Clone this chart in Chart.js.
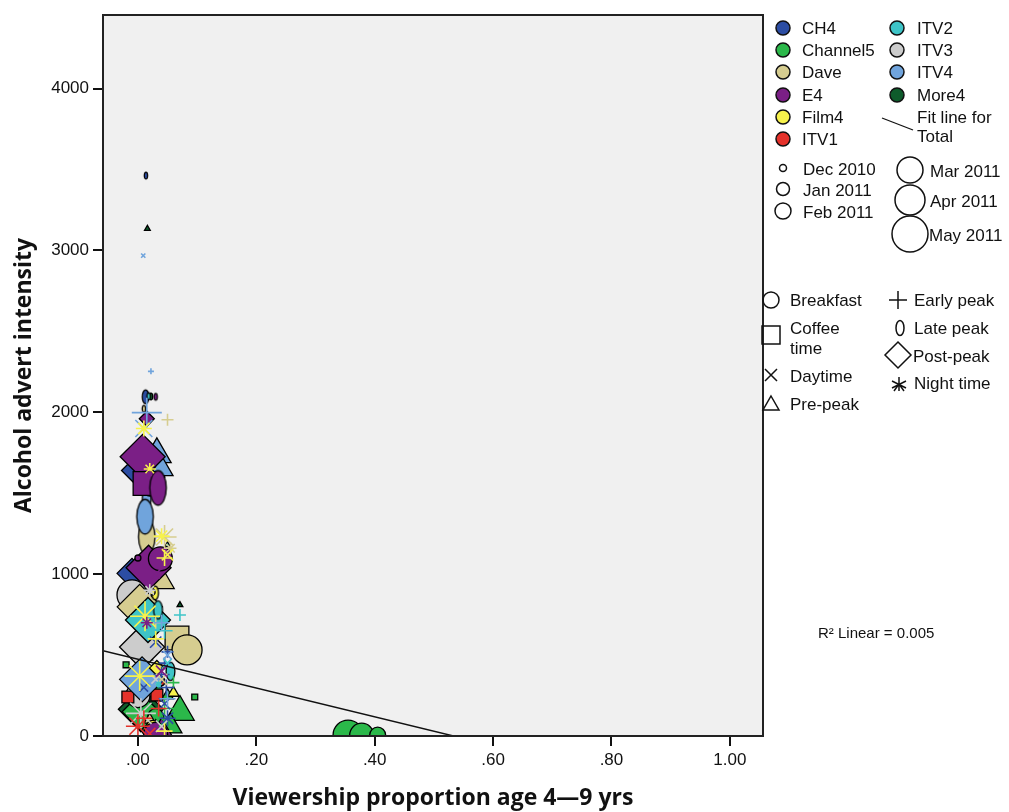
<!DOCTYPE html>
<html><head><meta charset="utf-8">
<script src="https://cdn.jsdelivr.net/npm/chart.js@4"></script>
<style>
html,body{margin:0;padding:0;background:#fff;}
#wrap{position:relative;width:1009px;height:812px;overflow:hidden;}
#c{position:absolute;left:0;top:0;}
#leg{position:absolute;left:0;top:0;pointer-events:none;}
#leg text{font-family:"Liberation Sans",Arial,sans-serif;font-size:17px;fill:#111;}
</style></head><body>
<div id="wrap">
<canvas id="c" width="1009" height="812"></canvas>
<svg id="leg" width="1009" height="812" xmlns="http://www.w3.org/2000/svg"></svg>
</div>
<script>
// ---------- data ----------
const channels = ['CH4','Channel5','Dave','E4','Film4','ITV1','ITV2','ITV3','ITV4','More4'];
const channelColors = ['#2c4da3','#2bb84a','#d6cd90','#7b1f86','#f7f24c','#e5322b','#3ec4c7','#cccccc','#70a4dc','#0e5b2b'];
const months = ['Dec 2010','Jan 2011','Feb 2011','Mar 2011','Apr 2011','May 2011'];
const slots = ['Breakfast','Coffee time','Daytime','Pre-peak','Early peak','Late peak','Post-peak','Night time'];
const xTicks = [0, 0.2, 0.4, 0.6, 0.8, 1.0];
const yTicks = [0, 1000, 2000, 3000, 4000];
const fitLine = [[-0.059, 527], [0.533, 0]];
const rSquared = 'R\u00B2 Linear = 0.005';

// rows: [viewership proportion, advert intensity, month index, slot index]
const CH4 = [[0.0135,3463,0,5],[0.013,2096,1,5],[0.004,1640,4,6],[0.02,1600,3,6],[-0.01,1005,3,6],
  [0.03,580,2,2],[0.045,450,1,4],[0.048,300,2,4],[0.05,110,2,7],[0.03,60,1,3],[0.045,200,2,2],
  [0.04,380,2,4],[0.05,520,1,4],[0.01,300,1,2]];
const Channel5 = [[0.355,5,4,0],[0.378,5,3,0],[0.405,5,2,0],[0.096,241,0,1],[0.071,148,4,3],[0.05,250,1,3],
  [0.035,300,0,1],[-0.02,440,0,1],[0.045,170,3,4],[0.055,60,3,3],[0.017,884,0,1],[0.045,90,2,2],
  [0.005,150,4,6],[0.03,120,2,0],[0.06,330,1,4]];
const Dave = [[0.01,2022,0,5],[0.05,1954,1,4],[0.015,1230,4,5],[0.045,1230,3,7],[0.042,952,3,3],
  [0.003,798,5,6],[0.066,606,3,1],[0.083,532,4,0],[0.03,700,1,4],[0.04,350,2,2],[0.02,100,1,3],
  [0.055,1160,1,7]];
const E4 = [[0.03,2096,0,5],[0.015,1960,1,6],[0.008,1725,5,6],[0.012,1560,3,1],[0.034,1533,4,5],
  [0.018,1040,5,6],[0.038,1095,3,0],[0.015,700,1,7],[0.04,10,4,3],[0.03,10,3,0],[0.02,1620,0,7],
  [0.04,400,2,2],[0.0,1100,0,0],[0.03,1000,1,2]];
const Film4 = [[0.01,1900,2,7],[0.04,1235,2,7],[0.045,1100,2,4],[0.029,884,1,5],[0.012,740,4,7],
  [0.032,420,1,6],[0.003,370,4,7],[0.06,266,1,3],[0.024,890,0,0],[0.05,1120,2,2],[0.02,1650,1,7],
  [0.03,600,2,4],[0.025,60,1,0],[0.045,30,2,4]];
const ITV1 = [[-0.017,241,1,1],[0.032,253,1,1],[0.0,60,3,7],[0.035,170,2,4],[0.02,15,2,2],
  [0.01,110,2,4],[0.04,330,0,0]];
const ITV2 = [[0.018,2100,0,5],[0.017,717,5,6],[0.034,779,2,5],[0.045,650,2,4],[0.05,450,1,2],
  [0.035,320,0,7],[0.071,748,1,4],[0.055,400,2,5],[0.05,1180,0,3]];
const ITV3 = [[-0.01,872,4,0],[0.007,550,5,6],[0.005,140,4,7],[0.03,350,1,2],[0.0,250,3,0],
  [0.02,900,1,7],[0.04,60,2,2]];
const ITV4 = [[0.009,2968,0,2],[0.022,2253,0,4],[0.015,1998,4,4],[0.032,1740,4,3],[0.04,1650,3,3],
  [0.015,1470,2,5],[0.012,1355,4,5],[0.007,350,5,6],[0.04,700,2,4],[0.05,500,1,2],[0.01,1900,3,2],
  [0.05,230,2,4],[0.02,1520,1,0],[0.03,1050,0,5]];
const More4 = [[0.016,3135,0,3],[0.022,2098,0,5],[0.071,810,0,3],[0.005,165,5,6],[0.025,60,3,0],
  [0.064,544,0,0],[0.015,1000,0,0],[0.02,480,0,3]];

const channelData = {CH4, Channel5, Dave, E4, Film4, ITV1, ITV2, ITV3, ITV4, More4};

// ---------- styling ----------
const monthRadius = [3, 6, 8, 12, 15, 18];
const slotStyle = ['circle','rect','crossRot','triangle','cross','ellipse','rectRot','star'];
const slotScale = [1, 1.4, 1, 1.1, 1, 1, 1.25, 1];
const lineSlots = [2, 4, 7];
const layer = ['More4','Channel5','CH4','ITV3','Dave','ITV1','ITV2','ITV4','Film4','E4']; // bottom -> top

const ellipseCache = {};
function ellipseImg(color, r) {
  const key = color + r;
  if (ellipseCache[key]) return ellipseCache[key];
  const rx = r * 0.55, ry = r * 1.15;
  const c = document.createElement('canvas');
  c.width = Math.ceil(2 * rx + 4); c.height = Math.ceil(2 * ry + 4);
  const g = c.getContext('2d');
  g.beginPath(); g.ellipse(c.width / 2, c.height / 2, rx, ry, 0, 0, Math.PI * 2);
  g.fillStyle = color; g.fill(); g.lineWidth = 1.3; g.strokeStyle = '#000'; g.stroke();
  ellipseCache[key] = c;
  return c;
}

function makeDataset(name, lines) {
  const ci = channels.indexOf(name);
  const color = channelColors[ci];
  const pts = channelData[name]
    .filter(r => lineSlots.includes(r[3]) === lines)
    .map(r => ({x: r[0], y: r[1], m: r[2], s: r[3]}));
  const li = layer.indexOf(name);
  return {
    type: 'scatter',
    label: name + (lines ? ' lines' : ''),
    data: pts,
    order: lines ? -100 - li : -li,
    clip: 0,
    showLine: false,
    pointStyle: ctx => {
      const p = ctx.raw; if (!p) return 'circle';
      const st = slotStyle[p.s];
      return st === 'ellipse' ? ellipseImg(color, monthRadius[p.m]) : st;
    },
    pointRadius: ctx => { const p = ctx.raw; return p ? monthRadius[p.m] * slotScale[p.s] : 3; },
    pointBackgroundColor: color,
    pointBorderColor: lines ? color : '#000',
    pointBorderWidth: lines ? 1.6 : 1.3
  };
}

const datasets = [];
channels.forEach(n => { datasets.push(makeDataset(n, false)); datasets.push(makeDataset(n, true)); });
datasets.push({
  type: 'line', label: 'Fit line for Total',
  data: fitLine.map(p => ({x: p[0], y: p[1]})),
  borderColor: '#111', borderWidth: 1.4, pointRadius: 0, clip: 0, order: -1000, tension: 0
});

const plotBg = {
  id: 'plotBg',
  beforeDraw(chart) {
    const {ctx, chartArea: a} = chart;
    ctx.save(); ctx.fillStyle = '#f0f0f0';
    ctx.fillRect(a.left, a.top, a.right - a.left, a.bottom - a.top); ctx.restore();
  },
  afterDraw(chart) {
    const {ctx, chartArea: a} = chart;
    ctx.save(); ctx.strokeStyle = '#222'; ctx.lineWidth = 2;
    ctx.strokeRect(a.left, a.top, a.right - a.left, a.bottom - a.top); ctx.restore();
  }
};

const tickFont = {family: '"Liberation Sans", Arial, sans-serif', size: 17};
const titleFont = {family: '"Open Sans", sans-serif', size: 23, weight: 'bold'};
new Chart(document.getElementById('c'), {
  type: 'scatter',
  data: {datasets},
  options: {
    responsive: false, animation: false, devicePixelRatio: 1, events: [],
    layout: {autoPadding: false, padding: {left: 0, top: 15, right: 246, bottom: 0}},
    plugins: {legend: {display: false}, tooltip: {enabled: false}},
    scales: {
      x: {
        type: 'linear', min: -0.059, max: 1.056, z: 1,
        afterBuildTicks: s => { s.ticks = xTicks.map(v => ({value: v})); },
        afterFit: s => { s.height = 76; s.paddingLeft = 0; s.paddingRight = 0; },
        ticks: {color: '#111', font: tickFont, padding: 4, maxRotation: 0, autoSkip: false,
          callback: v => v.toFixed(2).replace(/^0/, '')},
        grid: {display: true, drawOnChartArea: false, drawTicks: true, tickLength: 10, color: '#111', lineWidth: 2},
        border: {display: true, color: '#111', width: 2},
        title: {display: true, text: 'Viewership proportion age 4\u20149 yrs', color: '#111',
          font: titleFont, padding: {top: 0, bottom: 0}}
      },
      y: {
        type: 'linear', min: 0, max: 4455, z: 1,
        afterBuildTicks: s => { s.ticks = yTicks.map(v => ({value: v})); },
        afterFit: s => { s.width = 103; s.paddingTop = 0; s.paddingBottom = 0; },
        ticks: {color: '#111', font: tickFont, padding: 4, autoSkip: false, callback: v => String(v)},
        grid: {display: true, drawOnChartArea: false, drawTicks: true, tickLength: 10, color: '#111', lineWidth: 2},
        border: {display: true, color: '#111', width: 2},
        title: {display: true, text: 'Alcohol advert intensity', color: '#111',
          font: titleFont, padding: {top: 11, bottom: 0}}
      }
    }
  },
  plugins: [plotBg]
});

// ---------- legend (SVG, real text) ----------
const svg = document.getElementById('leg');
const NS = 'http://www.w3.org/2000/svg';
function el(tag, attrs, txt) {
  const e = document.createElementNS(NS, tag);
  for (const k in attrs) e.setAttribute(k, attrs[k]);
  if (txt !== undefined) e.textContent = txt;
  svg.appendChild(e); return e;
}
function label(x, cy, t) { el('text', {x: x, y: cy + 6}, t); }
const stroke = {stroke: '#111', 'stroke-width': 1.5, fill: 'none'};

// channels
const chPos = [[783, 802, 28],[783, 802, 50],[783, 802, 72],[783, 802, 95],[783, 802, 117],[783, 802, 139],
               [897, 917, 28],[897, 917, 50],[897, 917, 72],[897, 917, 95]];
const chLegendOrder = ['CH4','Channel5','Dave','E4','Film4','ITV1','ITV2','ITV3','ITV4','More4'];
chLegendOrder.forEach((n, i) => {
  const [cx, tx, cy] = chPos[i];
  el('circle', {cx, cy, r: 7, fill: channelColors[channels.indexOf(n)], stroke: '#111', 'stroke-width': 1.5});
  label(tx, cy, n);
});
el('line', {x1: 882, y1: 118, x2: 913, y2: 130, stroke: '#111', 'stroke-width': 1.3});
label(917, 117, 'Fit line for');
label(917, 136, 'Total');

// months
const mPos = [[783, 168, 803],[783, 189, 803],[783, 211, 803],[910, 170, 930],[910, 200, 930],[910, 234, 929]];
const mR = [3.5, 6.5, 8, 13, 15, 18];
months.forEach((m, i) => {
  const [cx, cy, tx] = mPos[i];
  el('circle', Object.assign({cx, cy, r: mR[i]}, stroke));
  label(tx, cy + 1, m);
});

// slots
el('circle', Object.assign({cx: 771, cy: 300, r: 8}, stroke)); label(790, 300, 'Breakfast');
el('rect', Object.assign({x: 762, y: 326, width: 18, height: 18}, stroke)); label(790, 328, 'Coffee'); label(790, 348, 'time');
el('path', Object.assign({d: 'M765 369 L777 381 M777 369 L765 381'}, stroke)); label(790, 376, 'Daytime');
el('path', Object.assign({d: 'M771 396 L779 410 L763 410 Z'}, stroke)); label(790, 404, 'Pre-peak');
el('path', Object.assign({d: 'M898 291 L898 309 M889 300 L907 300'}, stroke)); label(914, 300, 'Early peak');
el('ellipse', Object.assign({cx: 900, cy: 328, rx: 4, ry: 7.5}, stroke)); label(914, 328, 'Late peak');
el('path', Object.assign({d: 'M898 342 L911 355 L898 368 L885 355 Z'}, stroke)); label(913, 356, 'Post-peak');
el('path', Object.assign({d: 'M899 377 L899 391 M892 381 L906 388 M906 381 L892 388 M894 391 L899 384 L904 391'}, stroke));
label(914, 383, 'Night time');

// R squared note
el('text', {x: 818, y: 638, style: 'font-size:15px'}, rSquared);
</script>
</body></html>
